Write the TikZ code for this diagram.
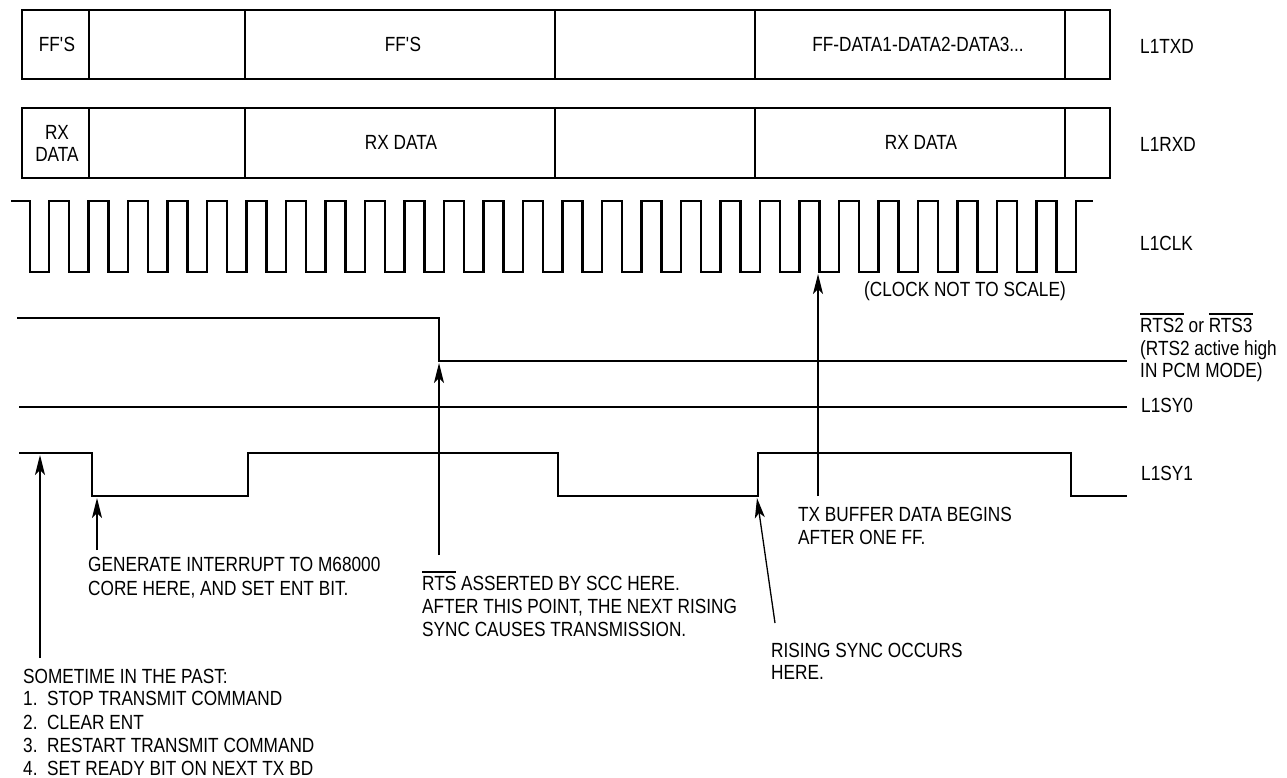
\documentclass[tikz,border=0pt]{standalone}
\usepackage{fontspec}
\setmainfont{Liberation Sans}[FakeStretch=0.84]
\usetikzlibrary{arrows.meta}
\newcommand{\ovl}[1]{\vbox{\hrule height 1.3pt\kern 3pt\hbox{#1}}}
\newcommand{\numitem}[1]{\makebox[24pt][l]{#1}}
\begin{document}
\begin{tikzpicture}[x=1pt,y=-1pt,
  sig/.style={line width=2.6pt, line join=miter, line cap=butt},
  boxline/.style={line width=2.6pt},
  ptr/.style={line width=1.3pt, -{Stealth[length=20pt,width=10pt,inset=5pt]}},
  txt/.style={inner sep=0pt, anchor=base west, font=\fontsize{20.5}{23}\selectfont},
  ctxt/.style={inner sep=0pt, anchor=base, font=\fontsize{20.5}{23}\selectfont},
]
\useasboundingbox (0,0) rectangle (1287,778);

% ---- L1TXD frame row
\draw[boxline] (22,10) rectangle (1110,79);
\foreach \xx in {89,245,555,755,1065} \draw[boxline] (\xx,10) -- (\xx,79);
% ---- L1RXD frame row
\draw[boxline] (22,108) rectangle (1110,178);
\foreach \xx in {89,245,555,755,1065} \draw[boxline] (\xx,108) -- (\xx,178);

\node[ctxt] (ff1) at (57,52) {FF\textquotesingle S};
\node[ctxt] (ff2) at (403,52) {FF\textquotesingle S};
\node[ctxt] (ffd) at (918,52) {FF-DATA1-DATA2-DATA3...};
\node[ctxt] (rx1a) at (57,140) {RX};
\node[ctxt] (rx1b) at (57,162) {DATA};
\node[ctxt] (rx2) at (401,150) {RX DATA};
\node[ctxt] (rx3) at (921,150) {RX DATA};

\node[txt] (ltxd) at (1140,54) {L1TXD};
\node[txt] (lrxd) at (1140,152) {L1RXD};
\node[txt] (lclk) at (1140,250) {L1CLK};

% ---- clock
\draw[sig] (11,201) -- (30,201) -- (30,272)
  \foreach \k in {0,...,25} { -- ({49+39.5*\k},272) -- ({49+39.5*\k},201) -- ({69+39.5*\k},201) -- ({69+39.5*\k},272) }
  -- (1076,272) -- (1076,201) -- (1093,201);
\node[txt] (note) at (864,296) {(CLOCK NOT TO SCALE)};

% ---- RTS
\draw[sig] (17,318) -- (439,318) -- (439,361) -- (1127,361);
\node[txt] (rtsa) at (1140,332) {\ovl{RTS2} or \ovl{RTS3}};
\node[txt] (rtsb) at (1140,355) {(RTS2 active high};
\node[txt] (rtsc) at (1140,377) {IN PCM MODE)};

% ---- L1SY0
\draw[sig] (19,407) -- (1127,407);
\node[txt] (lsy0) at (1141,412) {L1SY0};

% ---- L1SY1
\draw[sig] (19,453) -- (92,453) -- (92,496) -- (248,496) -- (248,453) -- (558,453) -- (558,496)
  -- (758,496) -- (758,453) -- (1071,453) -- (1071,496) -- (1127,496);
\node[txt] (lsy1) at (1141,480) {L1SY1};

% ---- annotations
\node[txt] (gen1) at (88,571) {GENERATE INTERRUPT TO M68000};
\node[txt] (gen2) at (88,595) {CORE HERE, AND SET ENT BIT.};

\node[txt] (past0) at (23,683) {SOMETIME IN THE PAST:};
\node[txt] (past1) at (23,705) {\numitem{1.}STOP TRANSMIT COMMAND};
\node[txt] (past2) at (23,729) {\numitem{2.}CLEAR ENT};
\node[txt] (past3) at (23,752) {\numitem{3.}RESTART TRANSMIT COMMAND};
\node[txt] (past4) at (23,775) {\numitem{4.}SET READY BIT ON NEXT TX BD};

\node[txt] (asr1) at (422,590) {\ovl{RTS} ASSERTED BY SCC HERE.};
\node[txt] (asr2) at (422,613) {AFTER THIS POINT, THE NEXT RISING};
\node[txt] (asr3) at (422,636) {SYNC CAUSES TRANSMISSION.};

\node[txt] (ris1) at (771,657) {RISING SYNC OCCURS};
\node[txt] (ris2) at (771,679) {HERE.};

\node[txt] (txb1) at (798,521) {TX BUFFER DATA BEGINS};
\node[txt] (txb2) at (798,544) {AFTER ONE FF.};

% ---- arrow coordinates
\coordinate (pastT) at (40,658);   \coordinate (pastH) at (40,455);
\coordinate (genT) at (97,550);    \coordinate (genH) at (97,498);
\coordinate (asrT) at (439,555);   \coordinate (asrH) at (439,363);
\coordinate (risT) at (775,623);   \coordinate (risH) at (757,498);
\coordinate (txbT) at (818,496);   \coordinate (txbH) at (818,274);

\draw[ptr] (pastT) -- (pastH);
\draw[ptr] (genT) -- (genH);
\draw[ptr] (asrT) -- (asrH);
\draw[ptr] (risT) -- (risH);
\draw[ptr] (txbT) -- (txbH);
\end{tikzpicture}
\end{document}
